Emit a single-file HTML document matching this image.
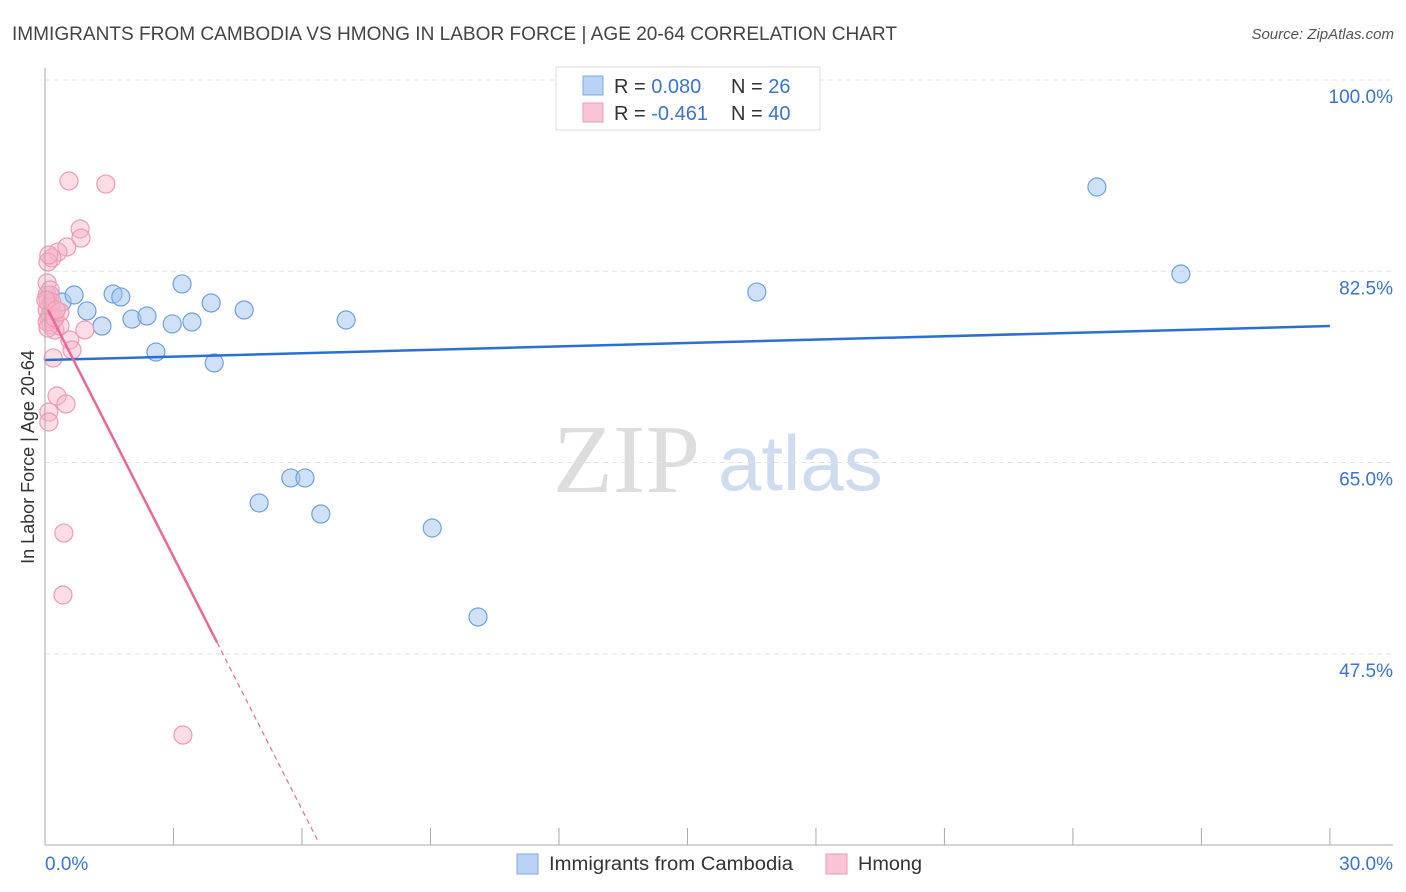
<!DOCTYPE html>
<html><head><meta charset="utf-8"><style>
body{margin:0;background:#fff;font-family:"Liberation Sans",sans-serif;}
svg{display:block}
</style></head><body>
<svg id="c" width="1406" height="892">
<text x="12" y="40" font-size="19" fill="#444" textLength="885" lengthAdjust="spacingAndGlyphs">IMMIGRANTS FROM CAMBODIA VS HMONG IN LABOR FORCE | AGE 20-64 CORRELATION CHART</text>
<text x="1394" y="39" font-size="15" fill="#555" font-style="italic" text-anchor="end">Source: ZipAtlas.com</text>
<text x="34" y="457" font-size="18" fill="#333" text-anchor="middle" transform="rotate(-90 34 457)">In Labor Force | Age 20-64</text>
<text x="553" y="492" font-size="98" fill="#ddd" font-family="Liberation Serif,serif">ZIP</text>
<text x="718" y="490" font-size="78" fill="#cfdcef">atlas</text>
<g id="grid"></g><g id="pts"></g><g id="trend"></g>
<line x1="45" y1="68" x2="45" y2="845" stroke="#aaa"/>
<line x1="45" y1="845" x2="1393" y2="845" stroke="#aaa"/>
<text x="45" y="870" font-size="19" fill="#3b73d1">0.0%</text>
<text x="1393" y="870" font-size="19" fill="#3b73d1" text-anchor="end">30.0%</text>
<g>
<rect x="556" y="67" width="264" height="63" fill="#fff" stroke="#ddd"/>
<rect x="583" y="76" width="20" height="19" fill="#b9d3f5" stroke="#7fa9e6"/>
<rect x="583" y="103" width="20" height="19" fill="#f9c4d3" stroke="#ee9ab4"/>
<text x="614" y="93" font-size="20" fill="#333">R = <tspan fill="#3b73d1">0.080</tspan></text>
<text x="731" y="93" font-size="20" fill="#333">N = <tspan fill="#3b73d1">26</tspan></text>
<text x="614" y="120" font-size="20" fill="#333">R = <tspan fill="#3b73d1">-0.461</tspan></text>
<text x="731" y="120" font-size="20" fill="#333">N = <tspan fill="#3b73d1">40</tspan></text>
</g>
<g>
<rect x="517" y="854" width="21" height="20" fill="#b9d3f5" stroke="#7fa9e6"/>
<text x="549" y="870" font-size="19" fill="#333" textLength="244" lengthAdjust="spacingAndGlyphs">Immigrants from Cambodia</text>
<rect x="826" y="854" width="21" height="20" fill="#f9c4d3" stroke="#ee9ab4"/>
<text x="858" y="870" font-size="19" fill="#333" textLength="64" lengthAdjust="spacingAndGlyphs">Hmong</text>
</g>
</svg>
<script>
const yTicks=[100,82.5,65,47.5];
const xTickCount=10;
const blueX=[0.12,0.40,0.68,0.98,1.33,1.59,1.77,2.03,2.38,2.59,2.97,3.20,3.43,3.88,3.95,4.65,5.00,5.74,6.07,6.44,7.03,9.04,10.11,16.62,24.56,26.52];
const blueY=[80.33,79.69,80.33,78.87,77.49,80.42,80.15,78.13,78.41,75.11,77.68,81.34,77.86,79.60,74.11,78.96,61.30,63.59,63.59,60.29,78.04,59.01,50.87,80.60,90.21,82.25];
const pinkX=[0.56,1.42,0.82,0.84,0.51,0.30,0.16,0.07,0.05,0.05,0.07,0.12,0.16,0.09,0.14,0.23,0.35,0.93,0.58,0.63,0.19,0.28,0.49,0.09,0.09,0.44,0.42,3.22,0.05,0.12,0.19,0.05,0.12,0.16,0.07,0.23,0.35,0.02,0.09,0.26];
const pinkY=[90.76,90.48,86.37,85.54,84.72,84.26,83.72,83.35,81.43,80.33,79.87,79.32,78.77,78.23,77.58,77.13,77.49,77.13,76.21,75.30,74.57,71.09,70.36,69.62,68.71,58.55,52.88,40.07,78.96,78.50,78.04,77.86,80.79,79.69,77.31,78.23,78.77,79.87,83.99,78.96];
const blueTrend=[74.38,77.49];
const pinkTrend=[79.51,-7.71];
const pinkSolidEnd=4.02, pinkDashEnd=6.37;
const X=v=>45+v*42.83, Y=v=>80+(100-v)*10.93;
const NS="http://www.w3.org/2000/svg";
function mk(p,t,a){const e=document.createElementNS(NS,t);for(const k in a)e.setAttribute(k,a[k]);p.appendChild(e);return e;}
const grid=document.getElementById('grid');
yTicks.forEach(v=>{
 const l=mk(grid,'line',{x1:45,x2:1393,y1:Y(v),y2:Y(v),stroke:'#e3e3e3','stroke-dasharray':'5,4'});
 
 
 const t=mk(grid,'text',{x:1393,y:Y(v)+23,'font-size':19,fill:'#3b73d1','text-anchor':'end'});
 t.textContent=v.toFixed(1)+'%';
 
 
});
for(let i=1;i<=xTickCount;i++){
 const l=mk(grid,'line',{x1:X(i*3),x2:X(i*3),y1:828,y2:845,stroke:'#aaa'});
 
 
}
const pts=document.getElementById('pts');
blueX.forEach((x,i)=>{
 const c=mk(pts,'circle',{cx:X(x),cy:Y(blueY[i]),r:9,fill:'rgba(160,196,240,0.5)',stroke:'#6fa0e0','stroke-width':1.2});
 
 
});
pinkX.forEach((x,i)=>{
 const c=mk(pts,'circle',{cx:X(x),cy:Y(pinkY[i]),r:9,fill:'rgba(248,180,200,0.45)',stroke:'#ee9ab4','stroke-width':1.2});
 
 
});
const tr=document.getElementById('trend');
const bl=mk(tr,'line',{x1:X(0),y1:Y(blueTrend[0]),x2:X(30),y2:Y(blueTrend[1]),stroke:'#2a6fd6','stroke-width':2.5});


const pf=x=>pinkTrend[0]+pinkTrend[1]*x;
const pl=mk(tr,'line',{x1:X(0.07),y1:Y(pf(0.07)),x2:X(pinkSolidEnd),y2:Y(pf(pinkSolidEnd)),stroke:'#e8689a','stroke-width':2.5});


const pd=mk(tr,'line',{x1:X(pinkSolidEnd),y1:Y(pf(pinkSolidEnd)),x2:X(pinkDashEnd),y2:Y(pf(pinkDashEnd)),stroke:'#e8689a','stroke-width':1.2,'stroke-dasharray':'5,4'});


</script>
</body></html>
